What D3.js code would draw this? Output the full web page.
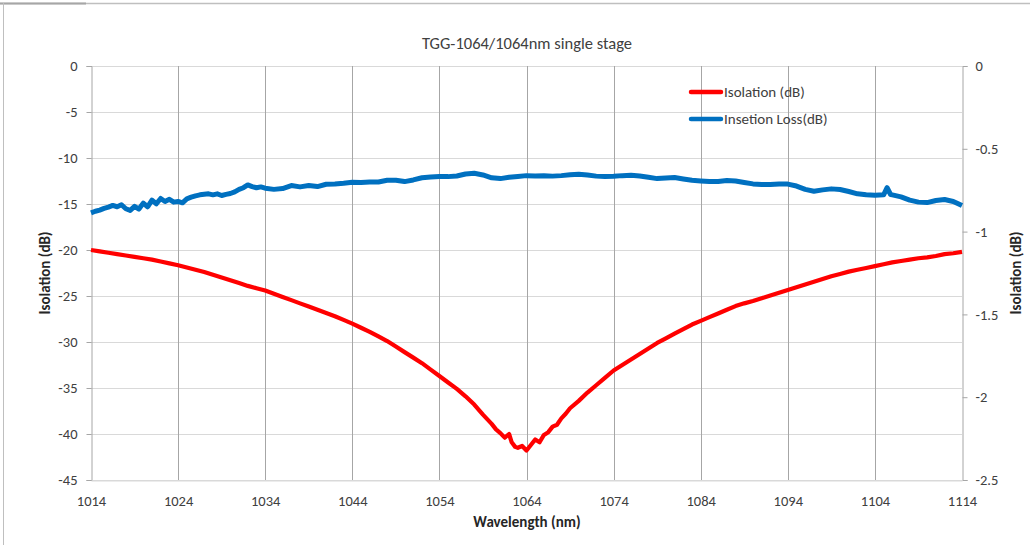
<!DOCTYPE html>
<html>
<head>
<meta charset="utf-8">
<script src="https://cdn.jsdelivr.net/npm/d3@7"></script>
<style>
  body { margin: 0; background: #fff; }
  text { font-family: Carlito, Calibri, "Liberation Sans", "Open Sans", sans-serif; }
</style>
</head>
<body>
<div id="graph"></div>
<script>
// Data
let xTicks = [1014, 1024, 1034, 1044, 1054, 1064, 1074, 1084, 1094, 1104, 1114];
let leftTicks = [0, -5, -10, -15, -20, -25, -30, -35, -40, -45];
let rightTicks = [0, -0.5, -1, -1.5, -2, -2.5];

let isoWl = [1014, 1015, 1016, 1017, 1018, 1019, 1020, 1021, 1022, 1023, 1024, 1025, 1026, 1027, 1028, 1029, 1030,
  1031, 1032, 1033, 1034, 1035, 1036, 1037, 1038, 1039, 1040, 1041, 1042, 1043, 1044, 1045, 1046, 1047, 1048, 1049,
  1050, 1051, 1052, 1053, 1054, 1055, 1056, 1057, 1058, 1059, 1060, 1060.5, 1061, 1061.5, 1062, 1062.3, 1062.7, 1063,
  1063.5, 1064, 1064.5, 1065, 1065.5, 1066, 1066.5, 1067, 1067.5, 1068, 1068.5, 1069, 1070, 1071, 1072, 1073, 1074,
  1075, 1076, 1077, 1078, 1079, 1080, 1081, 1082, 1083, 1084, 1085, 1086, 1087, 1088, 1089, 1090, 1091, 1092, 1093,
  1094, 1095, 1096, 1097, 1098, 1099, 1100, 1101, 1102, 1103, 1104, 1105, 1106, 1107, 1108, 1109, 1110, 1111, 1112,
  1113, 1114];
let isolation = [-20.0, -20.15, -20.3, -20.45, -20.6, -20.75, -20.9, -21.05, -21.25, -21.45, -21.65, -21.9, -22.15,
  -22.4, -22.7, -23.0, -23.3, -23.6, -23.9, -24.15, -24.4, -24.75, -25.1, -25.45, -25.8, -26.15, -26.5, -26.85, -27.2,
  -27.6, -28.0, -28.45, -28.9, -29.4, -29.9, -30.5, -31.1, -31.7, -32.3, -33.0, -33.7, -34.4, -35.1, -35.9, -36.8,
  -37.9, -38.9, -39.5, -39.9, -40.4, -40.0, -40.9, -41.4, -41.5, -41.3, -41.8, -41.2, -40.6, -40.9, -40.1, -39.8,
  -39.2, -39.0, -38.3, -37.8, -37.2, -36.4, -35.5, -34.7, -33.9, -33.1, -32.5, -31.9, -31.3, -30.7, -30.1, -29.6,
  -29.1, -28.6, -28.1, -27.7, -27.3, -26.9, -26.5, -26.1, -25.8, -25.55, -25.25, -24.95, -24.65, -24.35, -24.05,
  -23.75, -23.45, -23.15, -22.85, -22.6, -22.35, -22.15, -21.95, -21.75, -21.55, -21.35, -21.2, -21.05, -20.9,
  -20.8, -20.65, -20.45, -20.35, -20.2];

let lossWl = [1014, 1014.5, 1015, 1015.5, 1016, 1016.5, 1017, 1017.5, 1018, 1018.5, 1019, 1019.5, 1020, 1020.5, 1021,
  1021.5, 1022, 1022.5, 1023, 1023.5, 1024, 1024.5, 1025, 1025.5, 1026, 1026.5, 1027, 1027.5, 1028, 1028.5, 1029,
  1029.5, 1030, 1030.5, 1031, 1031.5, 1032, 1032.5, 1033, 1033.5, 1034, 1035, 1036, 1037, 1038, 1039, 1040, 1041,
  1042, 1043, 1044, 1045, 1046, 1047, 1048, 1049, 1050, 1051, 1052, 1053, 1054, 1055, 1056, 1057, 1058, 1059, 1060,
  1061, 1062, 1063, 1064, 1065, 1066, 1067, 1068, 1069, 1070, 1071, 1072, 1073, 1074, 1075, 1076, 1077, 1078, 1079,
  1080, 1081, 1082, 1083, 1084, 1085, 1086, 1087, 1088, 1089, 1090, 1091, 1092, 1093, 1094, 1095, 1096, 1097, 1098,
  1099, 1100, 1101, 1102, 1103, 1104, 1105, 1105.4, 1105.8, 1106, 1107, 1108, 1109, 1110, 1111, 1112, 1113, 1114];
let loss = [-0.887, -0.877, -0.870, -0.860, -0.852, -0.842, -0.850, -0.838, -0.862, -0.872, -0.848, -0.864, -0.828,
  -0.850, -0.810, -0.832, -0.800, -0.818, -0.805, -0.822, -0.818, -0.826, -0.802, -0.792, -0.784, -0.778, -0.775,
  -0.772, -0.778, -0.772, -0.782, -0.775, -0.770, -0.760, -0.745, -0.735, -0.718, -0.728, -0.735, -0.730, -0.738,
  -0.745, -0.740, -0.722, -0.730, -0.722, -0.728, -0.714, -0.712, -0.708, -0.702, -0.703, -0.700, -0.700, -0.690,
  -0.690, -0.698, -0.688, -0.675, -0.670, -0.668, -0.668, -0.664, -0.652, -0.648, -0.658, -0.675, -0.680, -0.672,
  -0.667, -0.662, -0.664, -0.663, -0.665, -0.662, -0.657, -0.653, -0.658, -0.665, -0.667, -0.666, -0.662, -0.660,
  -0.664, -0.672, -0.680, -0.676, -0.673, -0.682, -0.690, -0.694, -0.698, -0.698, -0.692, -0.694, -0.703, -0.712,
  -0.716, -0.716, -0.712, -0.713, -0.725, -0.745, -0.756, -0.748, -0.742, -0.746, -0.758, -0.772, -0.778, -0.781,
  -0.778, -0.735, -0.776, -0.778, -0.790, -0.810, -0.822, -0.825, -0.812, -0.806, -0.818, -0.843];

// Chart container and plot box
let chart = {
  width: 1030,
  height: 545,
  left: 91,
  right: 962,
  top: 66,
  bottom: 480
};

let svg = d3.select("#graph").append("svg")
  .attr("width", chart.width)
  .attr("height", chart.height);

// Outer frame (top and left edges only)
svg.append("line").attr("x1", 0).attr("x2", chart.width).attr("y1", 3.5).attr("y2", 3.5)
  .attr("stroke", "#bfbfbf").attr("stroke-width", 1.5);
svg.append("line").attr("x1", 0).attr("x2", 86).attr("y1", 3.5).attr("y2", 3.5)
  .attr("stroke", "#a6a6a6").attr("stroke-width", 2);
svg.append("line").attr("x1", 3.5).attr("x2", 3.5).attr("y1", 3).attr("y2", chart.height)
  .attr("stroke", "#bfbfbf").attr("stroke-width", 1);

// Scales
let xScale = d3.scaleLinear().domain([1014, 1114]).range([chart.left, chart.right]);
let yLeft = d3.scaleLinear().domain([-45, 0]).range([chart.bottom, chart.top]);
let yRight = d3.scaleLinear().domain([-2.5, 0]).range([chart.bottom, chart.top]);

// Plain hyphen for negatives, like the original
let fmt = (d) => String(d);

// Horizontal gridlines (light)
svg.append("g").selectAll("line").data(leftTicks).enter()
  .append("line")
  .attr("x1", chart.left).attr("x2", chart.right)
  .attr("y1", (d) => Math.round(yLeft(d)) + 0.5)
  .attr("y2", (d) => Math.round(yLeft(d)) + 0.5)
  .attr("stroke", "#d9d9d9").attr("stroke-width", 1);

// Vertical gridlines (darker)
svg.append("g").selectAll("line").data(xTicks.slice(1, -1)).enter()
  .append("line")
  .attr("x1", (d) => Math.round(xScale(d)) + 0.5)
  .attr("x2", (d) => Math.round(xScale(d)) + 0.5)
  .attr("y1", chart.top).attr("y2", chart.bottom)
  .attr("stroke", "#a6a6a6").attr("stroke-width", 1);

// Left axis
let leftAxis = d3.axisLeft(yLeft).tickValues(leftTicks).tickSize(5).tickPadding(9).tickFormat(fmt);
let gl = svg.append("g")
  .attr("transform", `translate(${chart.left + 0.5}, 0)`)
  .call(leftAxis);

// Right axis
let rightAxis = d3.axisRight(yRight).tickValues(rightTicks).tickSize(5).tickPadding(8).tickFormat(fmt);
let gr = svg.append("g")
  .attr("transform", `translate(${chart.right + 0.5}, 0)`)
  .call(rightAxis);

// Bottom axis (labels only, gridlines act as ticks)
let bottomAxis = d3.axisBottom(xScale).tickValues(xTicks).tickSize(0).tickPadding(15).tickFormat(fmt);
let gb = svg.append("g")
  .attr("transform", `translate(0, ${chart.bottom + 0.5})`)
  .call(bottomAxis);

[gl, gr, gb].forEach((g) => {
  g.selectAll("path").attr("stroke", "#a6a6a6").attr("stroke-width", 1);
  g.selectAll("line").attr("stroke", "#a6a6a6");
  g.selectAll("text").attr("fill", "#404040").style("font-size", "14.5px");
});
gb.select("path").attr("stroke", "#d9d9d9");

// Series lines
let isoLine = d3.line()
  .x((d, i) => xScale(isoWl[i]))
  .y((d) => yLeft(d));
let lossLine = d3.line()
  .x((d, i) => xScale(lossWl[i]))
  .y((d) => yRight(d));

svg.append("path").datum(loss)
  .attr("d", lossLine)
  .attr("fill", "none")
  .attr("stroke", "#0070c0")
  .attr("stroke-width", 5)
  .attr("stroke-linejoin", "round");

svg.append("path").datum(isolation)
  .attr("d", isoLine)
  .attr("fill", "none")
  .attr("stroke", "#ff0000")
  .attr("stroke-width", 4.2)
  .attr("stroke-linejoin", "round");

// Title
svg.append("text")
  .attr("x", 527).attr("y", 49)
  .attr("text-anchor", "middle")
  .attr("fill", "#404040")
  .style("font-size", "16.5px")
  .text("TGG-1064/1064nm single stage");

// Axis titles
svg.append("text")
  .attr("x", 527).attr("y", 527)
  .attr("text-anchor", "middle")
  .attr("fill", "#262626")
  .style("font-size", "15px").style("font-weight", "bold")
  .text("Wavelength (nm)");

svg.append("text")
  .attr("transform", "translate(50, 273) rotate(-90)")
  .attr("text-anchor", "middle")
  .attr("fill", "#262626")
  .style("font-size", "15px").style("font-weight", "bold")
  .text("Isolation (dB)");

svg.append("text")
  .attr("transform", "translate(1021, 273) rotate(-90)")
  .attr("text-anchor", "middle")
  .attr("fill", "#262626")
  .style("font-size", "15px").style("font-weight", "bold")
  .text("Isolation (dB)");

// Legend
let legend = [
  { name: "Isolation (dB)", color: "#ff0000", y: 92 },
  { name: "Insetion Loss(dB)", color: "#0070c0", y: 119 }
];
let lg = svg.append("g").selectAll("g").data(legend).enter().append("g");
lg.append("line")
  .attr("x1", 691).attr("x2", 721)
  .attr("y1", (d) => d.y).attr("y2", (d) => d.y)
  .attr("stroke", (d) => d.color)
  .attr("stroke-width", 4.5)
  .attr("stroke-linecap", "round");
lg.append("text")
  .attr("x", 724).attr("y", (d) => d.y + 5)
  .attr("fill", "#404040")
  .style("font-size", "15px")
  .text((d) => d.name);
</script>
</body>
</html>
